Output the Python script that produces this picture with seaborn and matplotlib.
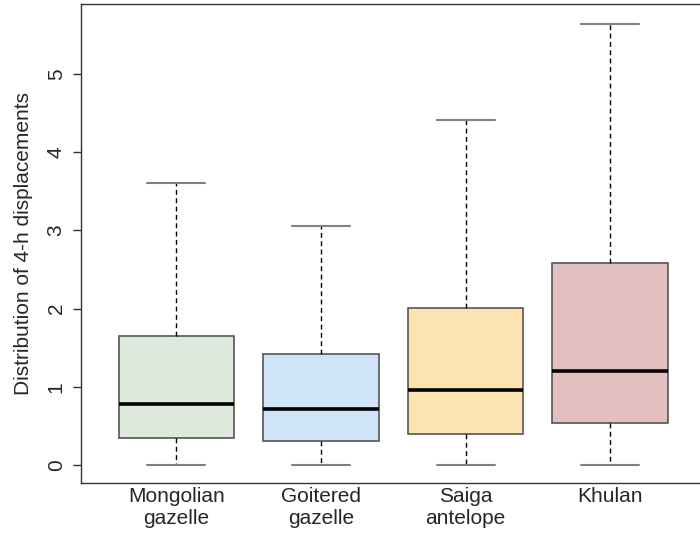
import matplotlib
matplotlib.use("Agg")
import matplotlib.pyplot as plt
import seaborn as sns
import pandas as pd

# five-number summaries (min, Q1, median, Q3, max)
species = ["Mongolian\ngazelle", "Goitered\ngazelle", "Saiga\nantelope", "Khulan"]
mongolian = [0.0, 0.344, 0.785, 1.65, 3.61]
goitered = [0.0, 0.31, 0.72, 1.415, 3.05]
saiga = [0.0, 0.40, 0.955, 2.01, 4.41]
khulan = [0.0, 0.54, 1.20, 2.58, 5.64]
colors = ["#dce9dc", "#cfe4f8", "#fde3b0", "#e3bebf"]

df = pd.DataFrame({
    "species": [s for s, vals in zip(species, [mongolian, goitered, saiga, khulan]) for _ in vals],
    "disp": mongolian + goitered + saiga + khulan,
})

sns.set_style("white")
plt.rcParams["font.family"] = ["Liberation Sans", "DejaVu Sans"]

fig = plt.figure(figsize=(7, 5.37), dpi=100)
ax = fig.add_axes([0.1157, 0.1006, 0.8923, 0.8912])

sns.boxplot(data=df, x="species", y="disp", hue="species", palette=colors,
            saturation=1, legend=False, whis=(0, 100), width=0.8, linewidth=1.2,
            linecolor="#555555", ax=ax,
            whiskerprops={"linestyle": (0, (3.5, 2.5)), "color": "black", "linewidth": 1},
            capprops={"color": "#808080", "linewidth": 1.5},
            medianprops={"color": "black", "linewidth": 2.6},
            boxprops={"edgecolor": "#555555"})

ax.set_xlim(-0.66, 3.66)
ax.set_ylim(-0.23, 5.89)
ax.set_yticks([0, 1, 2, 3, 4, 5])
ax.set_yticklabels(["0", "1", "2", "3", "4", "5"], rotation=90, va="center", fontsize=15)
ax.tick_params(axis="y", left=True, length=6, width=1, color="#333333", pad=5)
ax.tick_params(axis="x", bottom=False, length=0, pad=3, labelsize=15)
for lbl in ax.get_xticklabels():
    lbl.set_linespacing(1.2)
ax.set_xlabel("")
ax.set_ylabel("Distribution of 4-h displacements", fontsize=15, labelpad=10)
for sp in ax.spines.values():
    sp.set_visible(True)
    sp.set_color("#333333")
    sp.set_linewidth(1)

fig.savefig("out.png", dpi=100)
